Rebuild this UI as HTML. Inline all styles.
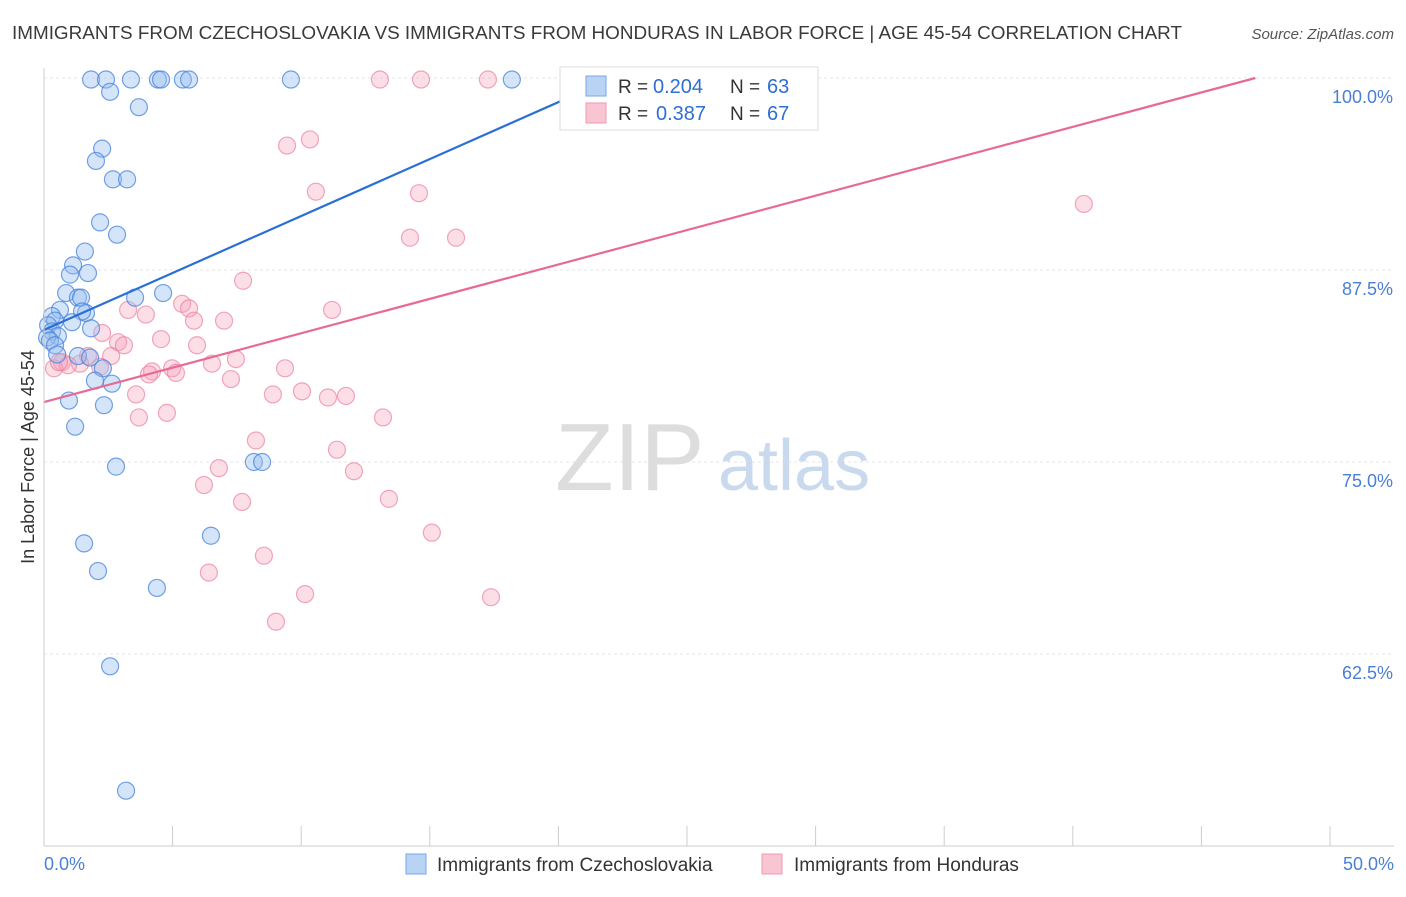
<!DOCTYPE html>
<html><head><meta charset="utf-8"><style>
body{margin:0;background:#fff;font-family:"Liberation Sans",sans-serif}
svg text{font-family:"Liberation Sans",sans-serif}
</style></head><body>
<svg id="chart" width="1406" height="892" xmlns="http://www.w3.org/2000/svg">
<text x="12" y="39" font-size="18" fill="#3a3a3a" textLength="1170" lengthAdjust="spacingAndGlyphs">IMMIGRANTS FROM CZECHOSLOVAKIA VS IMMIGRANTS FROM HONDURAS IN LABOR FORCE | AGE 45-54 CORRELATION CHART</text>
<text x="1394" y="39" font-size="15" fill="#555" text-anchor="end" font-style="italic">Source: ZipAtlas.com</text>
<g id="grid"></g>
<g><text x="555" y="490" font-size="96" fill="#ddd" font-family="Liberation Serif">ZIP</text><text x="718" y="490" font-size="72" fill="#c9d9ee">atlas</text></g>
<g id="pts"></g>
<g id="lines"></g>
<line x1="44" y1="68" x2="44" y2="846" stroke="#ccc"/>
<line x1="44" y1="846" x2="1394" y2="846" stroke="#ccc"/>
<g id="ticks"></g>
<text transform="translate(34,457) rotate(-90)" font-size="18" fill="#333" text-anchor="middle">In Labor Force | Age 45-54</text>
<text x="44" y="870" font-size="18" fill="#4a7fd6">0.0%</text>
<text x="1394" y="870" font-size="18" fill="#4a7fd6" text-anchor="end">50.0%</text>
<g>
<rect x="560" y="67" width="258" height="63" fill="#fff" stroke="#ddd"/>
<rect x="586" y="76" width="20" height="20" fill="#b9d3f5" stroke="#7aa6e8"/>
<rect x="586" y="103" width="20" height="20" fill="#f9c5d3" stroke="#ee9ab0"/>
<text x="618" y="93" font-size="19" fill="#333">R =</text>
<text x="653" y="93" font-size="20" fill="#2f6ed3">0.204</text>
<text x="730" y="93" font-size="19" fill="#333">N =</text>
<text x="767" y="93" font-size="20" fill="#2f6ed3">63</text>
<text x="618" y="120" font-size="19" fill="#333">R =</text>
<text x="656" y="120" font-size="20" fill="#2f6ed3">0.387</text>
<text x="730" y="120" font-size="19" fill="#333">N =</text>
<text x="767" y="120" font-size="20" fill="#2f6ed3">67</text>
</g>
<g>
<rect x="406" y="854" width="20" height="20" fill="#b9d3f5" stroke="#7aa6e8"/>
<text x="437" y="871" font-size="19" fill="#333">Immigrants from Czechoslovakia</text>
<rect x="762" y="854" width="20" height="20" fill="#f9c5d3" stroke="#ee9ab0"/>
<text x="794" y="871" font-size="19" fill="#333">Immigrants from Honduras</text>
</g>
</svg>
<script>
const yTicks=[100,87.5,75,62.5];
const yTickLabels=["100.0%","87.5%","75.0%","62.5%"];
const xTicks=[0,5,10,15,20,25,30,35,40,45,50];
const blueX=[1.83,2.41,3.38,4.43,4.55,5.40,5.64,9.60,18.19,2.57,3.69,2.26,2.02,2.68,3.23,2.18,2.84,1.59,1.13,1.01,1.71,0.86,1.32,1.44,4.63,3.54,0.62,1.63,1.48,0.31,0.43,1.09,0.16,0.31,0.54,1.83,0.12,0.23,0.43,0.51,1.32,1.79,2.29,1.98,2.64,0.97,2.33,1.21,2.80,8.16,8.48,6.49,1.56,2.10,4.39,2.57,3.19];
const blueY=[99.9,99.9,99.9,99.9,99.9,99.9,99.9,99.9,99.9,99.1,98.1,95.4,94.6,93.4,93.4,90.6,89.8,88.7,87.8,87.2,87.3,86.0,85.7,85.7,86.0,85.7,84.9,84.7,84.8,84.5,84.2,84.1,83.9,83.5,83.2,83.7,83.1,82.9,82.6,82.0,81.9,81.8,81.1,80.3,80.1,79.0,78.7,77.3,74.7,75.0,75.0,70.2,69.7,67.9,66.8,61.7,53.6];
const pinkX=[13.06,14.66,17.26,23.80,10.34,9.45,10.57,14.58,14.23,16.02,40.43,7.74,5.37,5.64,11.20,3.96,3.27,7.00,5.83,5.95,2.88,3.11,4.55,2.26,2.61,1.71,1.40,0.70,0.93,0.39,0.58,2.18,4.20,4.08,4.98,5.13,6.53,7.46,9.37,7.27,3.58,8.90,10.03,11.04,11.74,13.18,3.69,4.78,8.24,11.39,6.80,12.05,6.22,7.70,13.41,15.08,8.55,6.41,10.15,17.38,9.02];
const pinkY=[99.9,99.9,99.9,99.9,96.0,95.6,92.6,92.5,89.6,89.6,91.8,86.8,85.3,85.0,84.9,84.6,84.9,84.2,84.2,82.6,82.8,82.6,83.0,83.4,81.9,81.9,81.4,81.5,81.3,81.1,81.5,81.2,80.9,80.7,81.1,80.8,81.4,81.7,81.1,80.4,79.4,79.4,79.6,79.2,79.3,77.9,77.9,78.2,76.4,75.8,74.6,74.4,73.5,72.4,72.6,70.4,68.9,67.8,66.4,66.2,64.6];
const blueLine=[0,83.6,20.5,98.8];
const pinkLine=[0,78.9,47.1,100];
const X=v=>44+v/50*1286, Y=v=>78+(100-v)/12.5*192;
const ns="http://www.w3.org/2000/svg";
function mk(tag,attrs,parent){const e=document.createElementNS(ns,tag);for(const k in attrs)e.setAttribute(k,attrs[k]);document.getElementById(parent).appendChild(e);return e;}
yTicks.forEach((t,i)=>{
 const l=mk('line',{x1:44,x2:1394,y1:Y(t),y2:Y(t),stroke:'#e4e4e4','stroke-dasharray':'3,3'},'grid');
 
 
 const tx=mk('text',{x:1393,y:Y(t)+25,'font-size':18,fill:'#4a7fd6','text-anchor':'end'},'grid');
 tx.textContent=yTickLabels[i];
 
 
});
xTicks.forEach(t=>{
 const l=mk('line',{x1:X(t),x2:X(t),y1:826,y2:846,stroke:'#ccc'},'ticks');
 
 
});
pinkX.forEach((v,i)=>{
 const c=mk('circle',{cx:X(v),cy:Y(pinkY[i]),r:8.5,fill:'rgba(246,160,185,0.35)',stroke:'rgba(236,130,160,0.7)','stroke-width':1.2},'pts');
 
 
});
blueX.forEach((v,i)=>{
 const c=mk('circle',{cx:X(v),cy:Y(blueY[i]),r:8.5,fill:'rgba(150,190,240,0.4)',stroke:'rgba(70,130,220,0.75)','stroke-width':1.2},'pts');
 
 
});
const bl=mk('line',{x1:X(blueLine[0]),y1:Y(blueLine[1]),x2:X(blueLine[2]),y2:Y(blueLine[3]),stroke:'#2a6fd6','stroke-width':2.2},'lines');


const pl=mk('line',{x1:X(pinkLine[0]),y1:Y(pinkLine[1]),x2:X(pinkLine[2]),y2:Y(pinkLine[3]),stroke:'#e66a95','stroke-width':2.2},'lines');


</script>
</body></html>
